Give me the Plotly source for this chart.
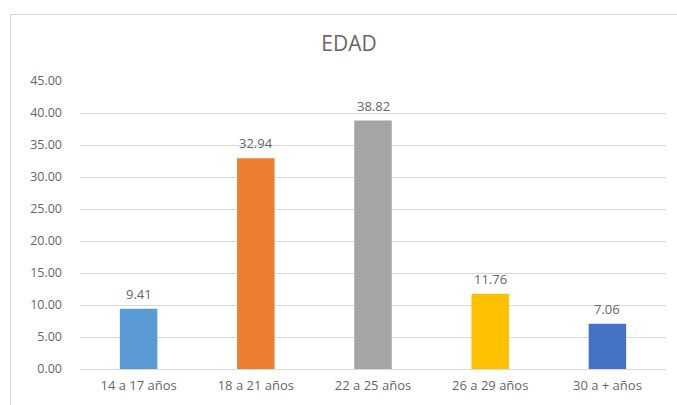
import plotly.graph_objects as go

# Age distribution (percent)
categories = ["14 a 17 años", "18 a 21 años", "22 a 25 años", "26 a 29 años", "30 a + años"]
values = [9.41, 32.94, 38.82, 11.76, 7.06]
colors = ["#5B9BD5", "#ED7D31", "#A5A5A5", "#FFC000", "#4472C4"]
y_ticks = [0, 5, 10, 15, 20, 25, 30, 35, 40, 45]

W, H = 677, 405
L, R, T, B = 80, 11, 81, 36
plot_w = W - L - R
plot_h = H - T - B
TEXT = "#666666"


def px_x(px):
    return (px - L) / plot_w


def px_y(py):
    return 1 - (py - T) / plot_h


fig = go.Figure(
    go.Bar(
        x=categories,
        y=values,
        marker=dict(color=colors, line=dict(width=0)),
        width=0.32,
        hoverinfo="skip",
    )
)

# value labels just above each bar
annotations = [
    dict(
        x=c,
        y=v,
        xref="x",
        yref="y",
        text=f"{v:.2f}",
        showarrow=False,
        yanchor="middle",
        yshift=15,
        font=dict(size=13, color=TEXT, family="Open Sans"),
    )
    for c, v in zip(categories, values)
]

fig.update_layout(
    width=W,
    height=H,
    margin=dict(l=L, r=R, t=T, b=B),
    paper_bgcolor="white",
    plot_bgcolor="white",
    showlegend=False,
    font=dict(family="Open Sans", color=TEXT, size=12),
    title=dict(
        text="EDAD",
        x=349 / W,
        xanchor="center",
        xref="container",
        y=1 - 44 / H,
        yanchor="middle",
        yref="container",
        font=dict(size=21, color=TEXT, family="Open Sans"),
    ),
    annotations=annotations,
    shapes=[
        dict(
            type="rect",
            xref="paper",
            yref="paper",
            x0=px_x(10.5),
            x1=px_x(720),
            y0=px_y(440),
            y1=px_y(14.5),
            line=dict(color="#D9D9D9", width=1),
            fillcolor="rgba(0,0,0,0)",
            layer="below",
        )
    ],
)

fig.update_xaxes(
    showgrid=False,
    showline=False,
    zeroline=False,
    ticks="",
    tickfont=dict(size=13, color=TEXT, family="Open Sans"),
    ticklabelstandoff=7,
)

fig.update_yaxes(
    range=[0, 45],
    tickvals=y_ticks,
    ticktext=[f"{v:.2f}" for v in y_ticks],
    showgrid=True,
    gridcolor="#D9D9D9",
    gridwidth=1,
    zeroline=True,
    zerolinecolor="#D9D9D9",
    zerolinewidth=1,
    showline=False,
    ticks="",
    ticklabelstandoff=17,
    tickfont=dict(size=12.5, color=TEXT, family="Open Sans"),
)

fig.write_html("out.html")
